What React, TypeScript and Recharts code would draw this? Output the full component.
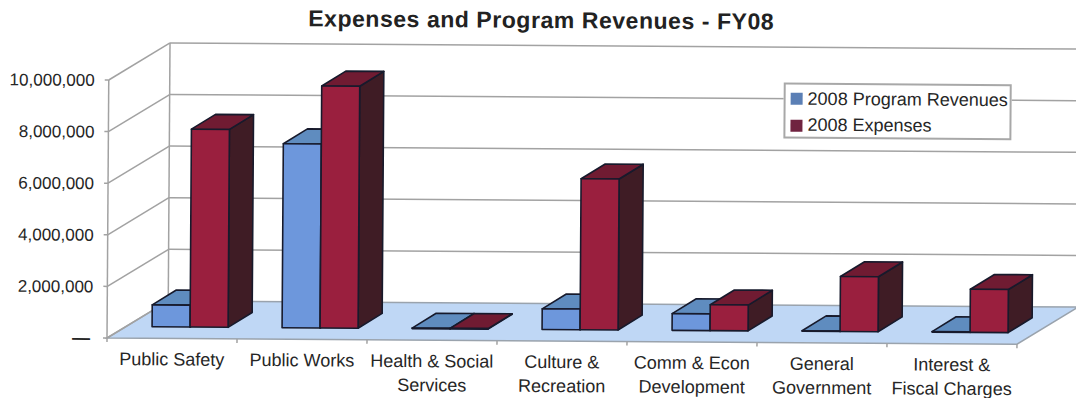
import { Bar, BarChart, CartesianGrid, Legend, XAxis, YAxis } from 'recharts'

const categories = [
  'Public Safety',
  'Public Works',
  'Health & Social\nServices',
  'Culture &\nRecreation',
  'Comm & Econ\nDevelopment',
  'General\nGovernment',
  'Interest &\nFiscal Charges',
]
const programRevenues = [850000, 7130000, 20000, 800000, 650000, 20000, 20000]
const expenses = [7670000, 9380000, 20000, 5850000, 1000000, 2130000, 1670000]
const yTicks = [0, 2000000, 4000000, 6000000, 8000000, 10000000]

const data = categories.map((name, i) => ({
  name,
  revenues: programRevenues[i],
  expenses: expenses[i],
}))

const FONT = '"Liberation Sans", Arial, sans-serif'
const TEXT = '#262626'
const GRID = '#a2a2a2'

// the bars stand in the middle of the floor, so the axes sit in front of them
const FRONT = { dx: -18, dy: 11.5 }
const BACK = { dx: 43, dy: -26 }
const BAR_DEPTH = { dx: 24, dy: -15 }
const PLOT_H = 258
const BAND = 130

const REVENUE_COLORS = { front: '#6d97dc', top: '#5f8cbf', side: '#2f4f80', swatch: '#5b7fb5' }
const EXPENSE_COLORS = { front: '#9a1f3e', top: '#701b32', side: '#3f1c25', swatch: '#702340' }

function Box3D({ x, y, width, height, colors }: any) {
  const { dx, dy } = BAR_DEPTH
  const stroke = '#171a2c'
  return (
    <g stroke={stroke} strokeWidth={1.6} strokeLinejoin="round">
      <polygon
        fill={colors.side}
        points={`${x + width},${y} ${x + width + dx},${y + dy} ${x + width + dx},${y + height + dy} ${x + width},${y + height}`}
      />
      <polygon
        fill={colors.top}
        points={`${x},${y} ${x + dx},${y + dy} ${x + width + dx},${y + dy} ${x + width},${y}`}
      />
      {height > 0.5 && <rect x={x} y={y} width={width} height={height} fill={colors.front} />}
    </g>
  )
}

// one wall line per y tick, running along the side wall and then the back wall
function WallLine({ x1, x2, y1 }: any) {
  const fx = x1 + FRONT.dx
  const bx = x1 + BACK.dx
  const fy = y1 + FRONT.dy
  const by = y1 + BACK.dy
  const isFloor = y1 > 300
  return (
    <g fill="none" stroke={GRID} strokeWidth={1.5}>
      {isFloor && (
        <>
          <line x1={fx} y1={fy} x2={fx} y2={fy - PLOT_H} />
          <line x1={bx} y1={by} x2={bx} y2={by - PLOT_H} />
          <polygon
            fill="#bfd7f5"
            stroke="#9aa3ad"
            points={`${fx},${fy} ${x2 + FRONT.dx},${fy} ${x2 + BACK.dx},${by} ${bx},${by}`}
          />
        </>
      )}
      <line x1={fx} y1={fy} x2={bx} y2={by} />
      {!isFloor && <line x1={bx} y1={by} x2={x2 + BACK.dx + 20} y2={by} />}
    </g>
  )
}

function YTick({ x, y, payload }: any) {
  const fy = y + FRONT.dy
  const fx = x + FRONT.dx
  const isZero = payload.value === 0
  return (
    <g>
      <line x1={fx - 4} y1={fy} x2={fx} y2={fy} stroke={GRID} strokeWidth={1.5} />
      <text
        x={isZero ? fx - 17 : fx - 14}
        y={fy + 6}
        textAnchor="end"
        fontSize={isZero ? 18 : 17}
        fontWeight={isZero ? 700 : 400}
        fontFamily={FONT}
        fill={TEXT}
      >
        {isZero ? '—' : payload.value.toLocaleString('en-US')}
      </text>
    </g>
  )
}

function XTick({ x, y, payload, index }: any) {
  const fx = x + FRONT.dx
  const fy = y + FRONT.dy
  const lines = String(payload.value).split('\n')
  return (
    <g>
      <line x1={fx - BAND / 2} y1={fy} x2={fx - BAND / 2} y2={fy + 4} stroke={GRID} strokeWidth={1.5} />
      {index === categories.length - 1 && (
        <line x1={fx + BAND / 2} y1={fy} x2={fx + BAND / 2} y2={fy + 4} stroke={GRID} strokeWidth={1.5} />
      )}
      {lines.map((line, i) => (
        <text key={line} x={fx} y={fy + 27 + i * 24} textAnchor="middle" fontSize={18} fontFamily={FONT} fill={TEXT}>
          {line}
        </text>
      ))}
    </g>
  )
}

function LegendBox({ payload }: any) {
  const swatches = [REVENUE_COLORS.swatch, EXPENSE_COLORS.swatch]
  return (
    <div
      style={{
        boxSizing: 'border-box',
        width: 228,
        height: 56,
        background: '#fff',
        border: '2px solid #a8a8a8',
        padding: '1px 0 0 5px',
        fontFamily: FONT,
        fontSize: 18,
        color: TEXT,
      }}
    >
      {(payload || []).map((entry: any, i: number) => (
        <div key={entry.value} style={{ display: 'flex', alignItems: 'center', height: 26.5, whiteSpace: 'nowrap' }}>
          <span style={{ width: 12, height: 12, background: swatches[i], marginRight: 5 }} />
          {entry.value}
        </div>
      ))}
    </div>
  )
}

export default function App() {
  return (
    <div style={{ position: 'absolute', left: 0, top: 0, width: 1076, height: 398, overflow: 'hidden', background: '#fff' }}>
      <div style={{ position: 'absolute', left: 0, top: 0, width: 1076, height: 398, transform: 'rotate(0.39deg)', transformOrigin: '107px 338px' }}>
        <div
          style={{
            position: 'absolute',
            left: 0,
            width: 1078,
            top: 4,
            textAlign: 'center',
            fontFamily: FONT,
            fontWeight: 700,
            fontSize: 23,
            letterSpacing: 0.55,
            color: '#222',
          }}
        >
          Expenses and Program Revenues - FY08
        </div>
        <BarChart
          width={1076}
          height={398}
          data={data}
          barSize={38}
          barGap={0}
          margin={{ top: 68.5, right: 41, bottom: 0, left: 0 }}
          style={{ position: 'absolute', left: 0, top: 0 }}
        >
          <CartesianGrid vertical={false} horizontal={(props: any) => <WallLine {...props} />} syncWithTicks />
          <XAxis
            dataKey="name"
            height={71.5}
            interval={0}
            axisLine={false}
            tickLine={false}
            tickSize={0}
            tickMargin={0}
            tick={(props: any) => <XTick {...props} />}
          />
          <YAxis
            width={125}
            domain={[0, 10000000]}
            ticks={yTicks}
            interval={0}
            axisLine={false}
            tickLine={false}
            tickSize={0}
            tickMargin={0}
            tick={(props: any) => <YTick {...props} />}
          />
          <Legend
            layout="vertical"
            align="center"
            verticalAlign="middle"
            itemSorter={null}
            content={(props: any) => <LegendBox {...props} />}
            wrapperStyle={{ position: 'absolute', left: 782, top: 78, width: 228, height: 56 }}
          />
          <Bar
            dataKey="revenues"
            name="2008 Program Revenues"
            fill={REVENUE_COLORS.front}
            isAnimationActive={false}
            shape={(props: any) => <Box3D {...props} colors={REVENUE_COLORS} />}
          />
          <Bar
            dataKey="expenses"
            name="2008 Expenses"
            fill={EXPENSE_COLORS.front}
            isAnimationActive={false}
            shape={(props: any) => <Box3D {...props} colors={EXPENSE_COLORS} />}
          />
        </BarChart>
      </div>
    </div>
  )
}
